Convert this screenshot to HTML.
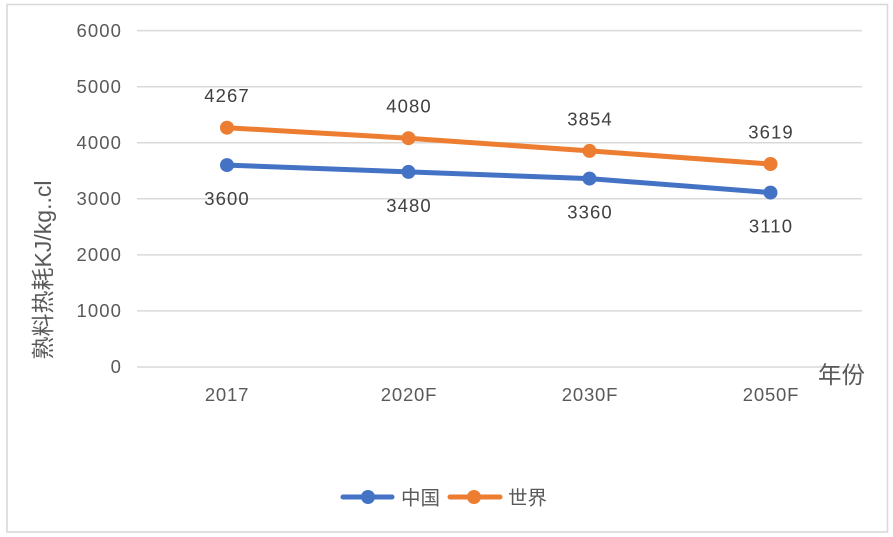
<!DOCTYPE html>
<html>
<head>
<meta charset="utf-8">
<style>
html,body{margin:0;padding:0;background:#fff;}
svg{display:block;}
text{font-family:"Liberation Sans","Noto Sans CJK SC",sans-serif;}
</style>
</head>
<body>
<svg width="893" height="537" viewBox="0 0 893 537" xmlns="http://www.w3.org/2000/svg">
<rect x="0" y="0" width="893" height="537" fill="#fff"/>
<rect x="7" y="4.5" width="880.5" height="527.5" fill="none" stroke="#d9d9d9" stroke-width="1.6"/>
<g stroke="#d9d9d9" stroke-width="1.5">
<line x1="137" y1="30.6" x2="862" y2="30.6"/>
<line x1="137" y1="86.7" x2="862" y2="86.7"/>
<line x1="137" y1="142.7" x2="862" y2="142.7"/>
<line x1="137" y1="198.8" x2="862" y2="198.8"/>
<line x1="137" y1="254.9" x2="862" y2="254.9"/>
<line x1="137" y1="310.9" x2="862" y2="310.9"/>
<line x1="137" y1="367" x2="862" y2="367"/>
</g>
<g fill="#595959" font-size="18.5" text-anchor="end" letter-spacing="1.1">
<text x="122" y="37">6000</text>
<text x="122" y="93">5000</text>
<text x="122" y="149">4000</text>
<text x="122" y="205">3000</text>
<text x="122" y="261">2000</text>
<text x="122" y="317">1000</text>
<text x="122" y="373">0</text>
</g>
<g fill="#595959" font-size="18.5" text-anchor="middle" letter-spacing="0.8">
<text x="227" y="401">2017</text>
<text x="409" y="401">2020F</text>
<text x="590" y="401">2030F</text>
<text x="771" y="401">2050F</text>
</g>
<text x="0" y="0" transform="translate(51,270) rotate(-90)" text-anchor="middle" fill="#595959" font-size="23">熟料热耗KJ/kg..cl</text>
<text x="818" y="383" fill="#595959" font-size="23.5">年份</text>
<polyline points="227,165.1 408.5,171.9 589.5,178.6 770.5,192.6" fill="none" stroke="#4472C4" stroke-width="5" stroke-linejoin="round" stroke-linecap="round"/>
<polyline points="227,127.7 408.5,138.2 589.5,150.9 770.5,164.0" fill="none" stroke="#ED7D31" stroke-width="5" stroke-linejoin="round" stroke-linecap="round"/>
<g fill="#4472C4">
<circle cx="227" cy="165.1" r="7"/>
<circle cx="408.5" cy="171.9" r="7"/>
<circle cx="589.5" cy="178.6" r="7"/>
<circle cx="770.5" cy="192.6" r="7"/>
</g>
<g fill="#ED7D31">
<circle cx="227" cy="127.7" r="7"/>
<circle cx="408.5" cy="138.2" r="7"/>
<circle cx="589.5" cy="150.9" r="7"/>
<circle cx="770.5" cy="164.0" r="7"/>
</g>
<g fill="#404040" font-size="18.5" text-anchor="middle" letter-spacing="1.1">
<text x="227" y="102">4267</text>
<text x="409" y="112.5">4080</text>
<text x="590" y="125.5">3854</text>
<text x="771" y="138.5">3619</text>
<text x="227" y="205">3600</text>
<text x="409" y="212">3480</text>
<text x="590" y="218.5">3360</text>
<text x="771" y="232.5">3110</text>
</g>
<line x1="343" y1="497" x2="392" y2="497" stroke="#4472C4" stroke-width="5" stroke-linecap="round"/>
<circle cx="368" cy="497" r="7" fill="#4472C4"/>
<text x="401" y="504.5" fill="#595959" font-size="19.5">中国</text>
<line x1="450" y1="497" x2="500" y2="497" stroke="#ED7D31" stroke-width="5" stroke-linecap="round"/>
<circle cx="474" cy="497" r="7" fill="#ED7D31"/>
<text x="508" y="504.5" fill="#595959" font-size="19.5">世界</text>
</svg>
</body>
</html>
